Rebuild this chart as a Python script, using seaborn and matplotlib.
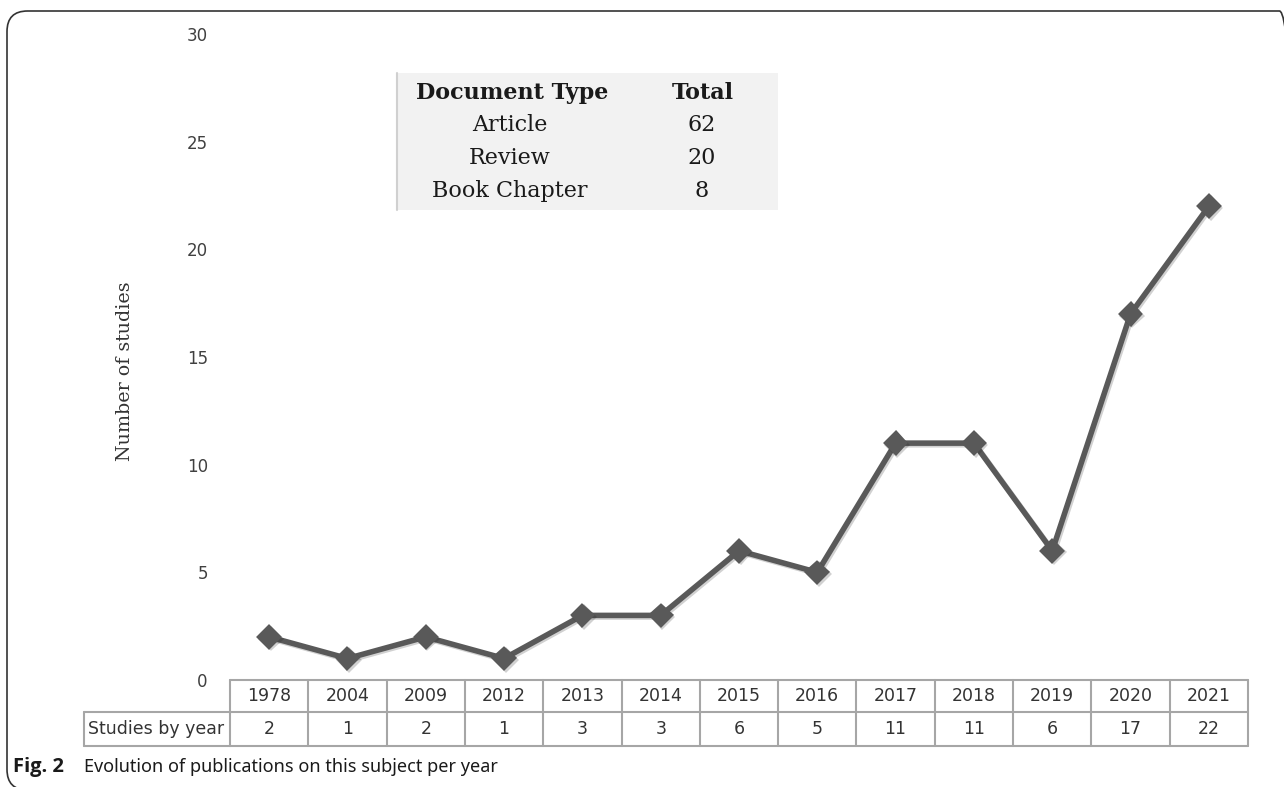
import numpy as np
import pandas as pd
import matplotlib
matplotlib.use("Agg")
import matplotlib.pyplot as plt
import matplotlib.patheffects as pe
from matplotlib.lines import Line2D
from matplotlib.patches import Rectangle, FancyBboxPatch
from matplotlib.transforms import blended_transform_factory
import seaborn as sns

# Data
years = ["1978", "2004", "2009", "2012", "2013", "2014", "2015",
         "2016", "2017", "2018", "2019", "2020", "2021"]
studies = [2, 1, 2, 1, 3, 3, 6, 5, 11, 11, 6, 17, 22]
doc_types = ["Article", "Review", "Book Chapter"]
doc_totals = [62, 20, 8]

df = pd.DataFrame({"year": years, "studies": studies})

sns.set_theme(style="white")
plt.rcParams["font.family"] = ["DejaVu Sans"]

W, H = 1284, 787
fig = plt.figure(figsize=(W / 100, H / 100), dpi=100)

def fx(px):
    return px / W

def fy(py):
    return 1 - py / H

ax = fig.add_axes([fx(230), fy(680), fx(1248) - fx(230), fy(34) - fy(680)])

line_col = "#595959"
sns.pointplot(data=df, x="year", y="studies", ax=ax, color=line_col,
              markers="D", linestyles="-", errorbar=None,
              markersize=10, linewidth=4)
for ln in ax.lines:
    ln.set_path_effects([pe.SimpleLineShadow(offset=(1.2, -1.2), alpha=0.2),
                         pe.Normal()])

ax.set_xlim(-0.5, len(years) - 0.5)
ax.set_ylim(0, 30)
ax.set_yticks(range(0, 31, 5))
ax.tick_params(axis="y", length=0, pad=16, labelsize=12, labelcolor="#404040")
ax.set_xticks([])
ax.set_xlabel("")
ax.set_ylabel("")
sns.despine(ax=ax, left=True, bottom=True)
ax.patch.set_alpha(0)

fig.text(fx(125), fy(371), "Number of studies", rotation=90, ha="center",
         va="center", family="DejaVu Serif", fontsize=13.7, color="#333333")

# data table under the axis
tr = blended_transform_factory(ax.transData, fig.transFigure)
trf = fig.transFigure
grid_col = "#a6a6a6"
y0, y1, y2 = fy(680), fy(712), fy(746)
x_left, x_right = -0.5, len(years) - 0.5
fig.add_artist(Line2D([x_left, x_right], [y0, y0], transform=tr, color=grid_col, lw=1.5))
for yy in (y1, y2):
    fig.add_artist(Line2D([fx(84), fx(230)], [yy, yy], transform=trf, color=grid_col, lw=1.5))
    fig.add_artist(Line2D([x_left, x_right], [yy, yy], transform=tr, color=grid_col, lw=1.5))
fig.add_artist(Line2D([fx(84), fx(84)], [y1, y2], transform=trf, color=grid_col, lw=1.5))
for i in range(len(years) + 1):
    xb = i - 0.5
    fig.add_artist(Line2D([xb, xb], [y0, y2], transform=tr, color=grid_col, lw=1.5))
for i, (yr, n) in enumerate(zip(years, studies)):
    fig.text(i, (y0 + y1) / 2, yr, transform=tr, ha="center", va="center",
             fontsize=12.5, color="#333333")
    fig.text(i, (y1 + y2) / 2, str(n), transform=tr, ha="center", va="center",
             fontsize=12.5, color="#333333")
fig.text(fx(156), (y1 + y2) / 2, "Studies by year", ha="center", va="center",
         fontsize=12.5, color="#333333")

# document type inset
fig.add_artist(Rectangle((fx(397), fy(210)), fx(778) - fx(397), fy(73) - fy(210),
                         transform=trf, facecolor="#f2f2f2", edgecolor="none"))
fig.add_artist(Line2D([fx(397), fx(397)], [fy(210), fy(73)], transform=trf,
                      color="#d0d0d0", lw=1.5))
fig.text(fx(512), fy(93), "Document Type", ha="center", va="center",
         family="DejaVu Serif", fontweight="bold", fontsize=16, color="#1a1a1a")
fig.text(fx(703), fy(93), "Total", ha="center", va="center",
         family="DejaVu Serif", fontweight="bold", fontsize=16, color="#1a1a1a")
for k, (dt, tot) in enumerate(zip(doc_types, doc_totals)):
    yy = fy(125 + k * 33)
    fig.text(fx(510), yy, dt, ha="center", va="center", family="DejaVu Serif",
             fontsize=16, color="#1a1a1a")
    fig.text(fx(702), yy, str(tot), ha="center", va="center", family="DejaVu Serif",
             fontsize=16, color="#1a1a1a")

# caption
fig.text(fx(13), fy(767), "Fig. 2", ha="left", va="center", family="Open Sans",
         fontweight="bold", fontsize=14.5, color="#1a1a1a")
fig.text(fx(84), fy(767), "Evolution of publications on this subject per year",
         ha="left", va="center", family="Noto Sans", fontsize=13, color="#1a1a1a")

# rounded frame, open to the right and bottom
fig.add_artist(FancyBboxPatch((fx(7), fy(790)), fx(1300) - fx(7), fy(11) - fy(790),
                              boxstyle="round,pad=0,rounding_size=0.016",
                              transform=trf, facecolor="none", edgecolor="#333333",
                              lw=1.2, mutation_aspect=W / H))

fig.savefig("out.png", dpi=100)
